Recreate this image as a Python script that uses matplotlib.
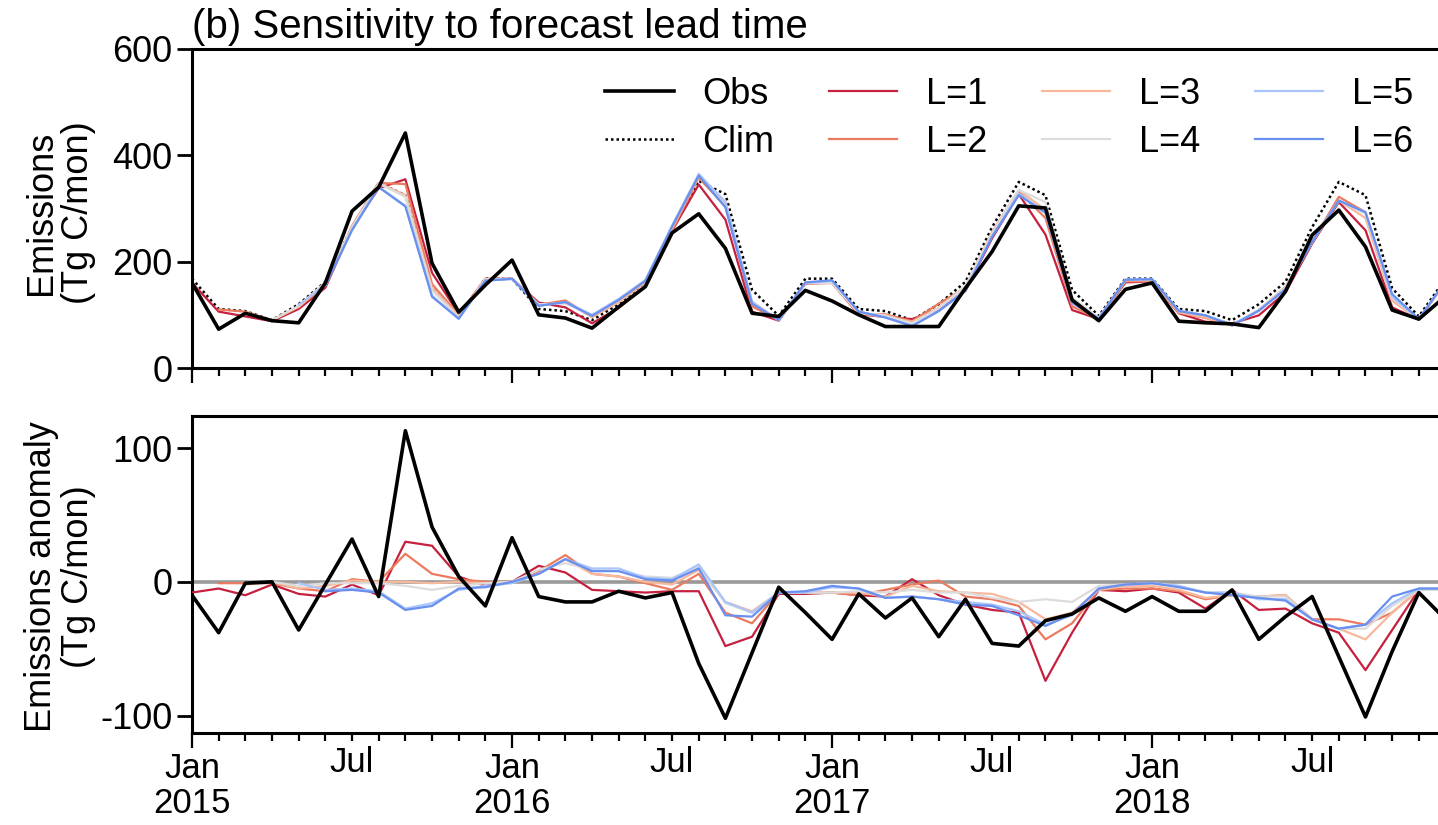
import numpy as np
import matplotlib
matplotlib.use("Agg")
import matplotlib.pyplot as plt
from matplotlib.ticker import FixedLocator, FixedFormatter

plt.rcParams['font.family'] = ['Liberation Sans', 'DejaVu Sans']
plt.rcParams['axes.unicode_minus'] = False

nan = np.nan
months = np.arange(48)  # Jan 2015 .. Dec 2018

# monthly emissions (Tg C/mon)
obs = [160, 73, 103, 89, 85, 160, 295, 340, 442, 197, 105, 156,
       203, 100, 94, 75, 115, 153, 254, 290, 225, 103, 97, 146,
       126, 100, 78, 78, 78, 150, 219, 305, 301, 128, 89, 148,
       160, 88, 85, 83, 76, 144, 250, 297, 228, 109, 92, 135]
clim = [168, 111, 107, 90, 120, 162, 265, 348, 325, 152, 98, 168,
        168, 111, 107, 90, 120, 162, 265, 352, 327, 147, 98, 168,
        168, 111, 107, 90, 120, 162, 265, 350, 325, 147, 98, 168,
        168, 111, 107, 90, 120, 162, 265, 350, 325, 150, 97, 168]

# anomalies (Tg C/mon)
obs_anom = [-10, -38, -1, 0, -36, -2, 32, -11, 113, 41, 4, -18,
            33, -11, -15, -15, -7, -12, -8, -61, -102, -53, -4, -23,
            -43, -9, -27, -12, -41, -13, -46, -48, -29, -24, -12, -22,
            -11, -22, -22, -6, -43, -26, -11, -56, -101, -52, -8, -28]
anom_L1 = [-8, -5, -10, -2, -9, -11, -2, -10, 30, 27, 4, -3,
           0, 12, 7, -6, -7, -8, -7, -7, -48, -41, -9, -9,
           -8, -10, -11, 2, -10, -17, -21, -23, -74, -38, -6, -7,
           -5, -8, -20, -6, -21, -20, -31, -38, -66, -36, -6, -6]
anom_L2 = [nan, -1, -1, -1, -5, -7, 2, 0, 21, 6, 2, 0,
           0, 8, 20, 6, 4, -1, -6, 6, -23, -31, -8, -8,
           -8, -10, -6, -2, 1, -11, -13, -18, -43, -31, -6, -5,
           -5, -7, -13, -10, -11, -10, -28, -28, -32, -23, -6, -6]
anom_L3 = [nan, nan, -2, 0, -5, -3, 1, 0, 0, -1, 0, -1,
           0, 6, 17, 6, 4, 0, -2, 9, -15, -22, -8, -8,
           -8, -8, -11, -3, -7, -8, -9, -15, -28, -23, -6, -3,
           -3, -6, -12, -10, -11, -10, -28, -35, -43, -23, -6, -6]
anom_L4 = [nan, nan, nan, 0, -3, -1, -1, -1, -3, -6, -3, -1,
           0, 9, 14, 9, 8, 4, 3, 11, -16, -23, -8, -8,
           -8, -7, -8, -6, -8, -8, -12, -15, -13, -15, -3, -2,
           -1, -3, -8, -8, -11, -11, -28, -35, -35, -18, -6, -6]
anom_L5 = [nan, nan, nan, nan, -1, -6, -5, -7, -20, -16, -6, -3,
           -1, 6, 17, 10, 10, 3, 2, 13, -15, -23, -8, -8,
           -4, -5, -12, -11, -13, -15, -17, -22, -32, -25, -5, -2,
           -1, -3, -8, -8, -13, -13, -28, -35, -32, -16, -5, -5]
anom_L6 = [nan, nan, nan, nan, nan, -7, -6, -8, -21, -18, -5, -4,
           0, 6, 17, 8, 8, 2, 1, 10, -25, -26, -8, -7,
           -3, -5, -12, -11, -13, -17, -18, -25, -33, -24, -5, -2,
           -1, -4, -8, -10, -12, -14, -28, -35, -32, -11, -5, -5]

lead_anoms = [anom_L1, anom_L2, anom_L3, anom_L4, anom_L5, anom_L6]
lead_labels = ['L=1', 'L=2', 'L=3', 'L=4', 'L=5', 'L=6']
lead_colors = ['#c5203e', '#ec7a5e', '#f7b89c', '#dcdcdc', '#a9c5fb', '#6990ee']

jan_labels = ['Jan\n2015', 'Jan\n2016', 'Jan\n2017', 'Jan\n2018']

W, H = 1438, 825
fig = plt.figure(figsize=(W / 100, H / 100), dpi=100)
px_month = 26.67
xmax = 47.5
ax1 = fig.add_axes([192 / W, 1 - 368 / H, xmax * px_month / W, (368 - 49) / H])
ax2 = fig.add_axes([192 / W, 1 - 733 / H, xmax * px_month / W, (733 - 416) / H])

fs = 26

# top panel: totals
h_clim, = ax1.plot(months, clim, color='black', lw=1.8, ls=(0, (1, 1.2)), zorder=3)
handles = []
for a, lab, c in zip(lead_anoms, lead_labels, lead_colors):
    fc = np.array(clim, dtype=float) + np.array(a, dtype=float)
    h, = ax1.plot(months, fc, color=c, lw=1.6, zorder=4)
    handles.append(h)
h_obs, = ax1.plot(months, obs, color='black', lw=2.6, zorder=5)

# bottom panel: anomalies
ax2.axhline(0, color='#999999', lw=2.6, zorder=1)
for a, c in zip(lead_anoms, lead_colors):
    ax2.plot(months, a, color=c, lw=1.6, zorder=4)
ax2.plot(months, obs_anom, color='black', lw=2.6, zorder=5)

for ax in (ax1, ax2):
    ax.set_xlim(0, xmax)
    for s in ax.spines.values():
        s.set_linewidth(2.2)
    ax.xaxis.set_major_locator(FixedLocator([0, 12, 24, 36]))
    ax.xaxis.set_minor_locator(FixedLocator([m for m in months if m % 12 != 0]))
    ax.tick_params(axis='x', which='major', direction='out', length=11, width=1.6)
    ax.tick_params(axis='x', which='minor', direction='out', length=6, width=1.6)
    ax.tick_params(axis='y', direction='out', length=11, width=2, labelsize=fs, pad=3)

ax1.set_ylim(0, 600)
ax1.set_yticks([0, 200, 400, 600])
ax1.tick_params(axis='x', which='both', labelbottom=False)

ax2.set_ylim(-113, 124)
ax2.set_yticks([-100, 0, 100])
ax2.xaxis.set_major_formatter(FixedFormatter(jan_labels))
minor_labels = ['Jul' if m % 12 == 6 else '' for m in months if m % 12 != 0]
ax2.xaxis.set_minor_formatter(FixedFormatter(minor_labels))
ax2.tick_params(axis='x', which='both', labelsize=fs - 1, pad=3)
for t in ax2.get_xticklabels(which='both'):
    t.set_linespacing(1.05)

ax1.text(0, 1.035, '(b) Sensitivity to forecast lead time', transform=ax1.transAxes,
         fontsize=fs + 3, ha='left', va='baseline')

fig.text(60 / W, 1 - 213 / H, 'Emissions\n(Tg C/mon)', rotation=90, ha='center',
         va='center', fontsize=fs, multialignment='center', linespacing=1.05)
fig.text(60 / W, 1 - 577 / H, 'Emissions anomaly\n(Tg C/mon)', rotation=90, ha='center',
         va='center', fontsize=fs, multialignment='center', linespacing=1.05)

ax1.legend([h_obs, h_clim] + handles, ['Obs', 'Clim'] + lead_labels, ncol=4,
           loc='upper left', bbox_to_anchor=(605 / W, 1 - 77 / H),
           bbox_transform=fig.transFigure, frameon=False, fontsize=fs,
           handlelength=1.9, handletextpad=0.8, columnspacing=1.5,
           labelspacing=0.36, borderpad=0, borderaxespad=0)

fig.savefig('out.png', dpi=100)
